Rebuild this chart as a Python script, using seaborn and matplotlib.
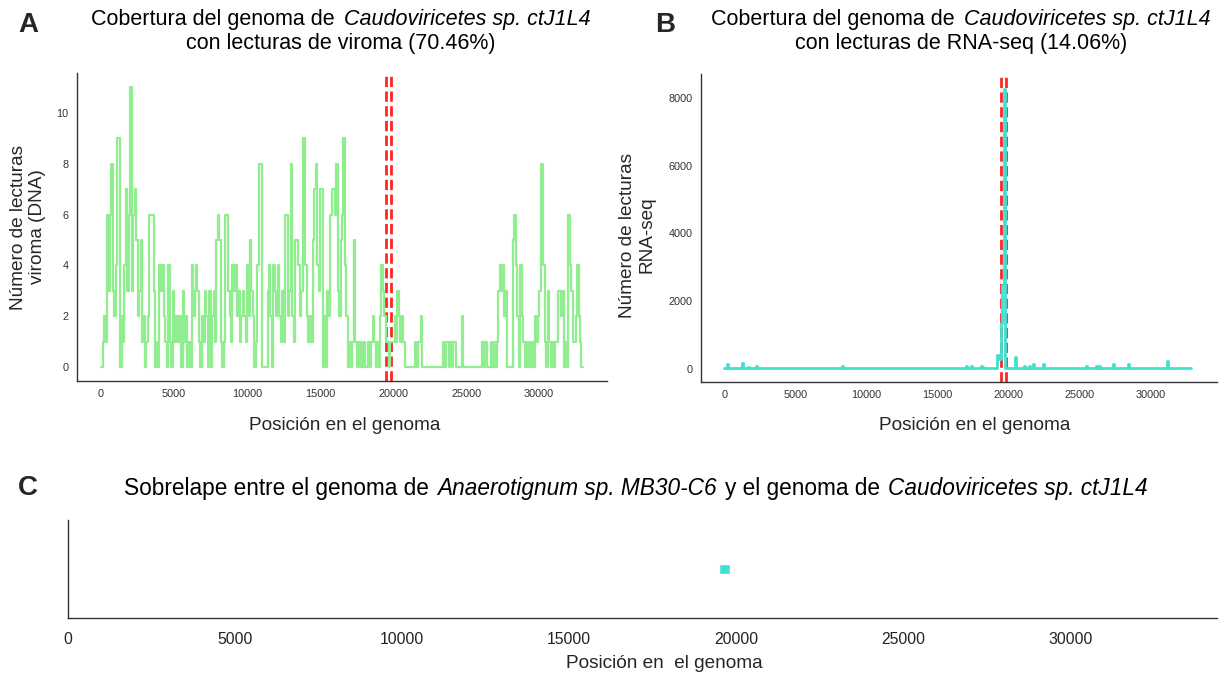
import numpy as np
import pandas as pd
import matplotlib
matplotlib.use("Agg")
import matplotlib.pyplot as plt
from matplotlib.transforms import IdentityTransform
import seaborn as sns

# ---------------- data ----------------
GENOME_LEN = 33000
BIN_SIZE = 100
# viroma (DNA) coverage, one value per 100-bp bin starting at position 0
viroma_cov = [
    0, 1, 2, 1, 6, 3, 6, 8, 3, 2,
    4, 9, 9, 0, 2, 1, 4, 7, 3, 6,
    11, 3, 6, 7, 5, 2, 3, 5, 1, 2,
    0, 1, 2, 6, 6, 6, 3, 0, 1, 0,
    4, 3, 4, 2, 1, 0, 4, 1, 0, 3,
    1, 2, 2, 1, 2, 0, 3, 1, 2, 0,
    1, 0, 4, 2, 3, 4, 3, 1, 0, 2,
    1, 3, 2, 0, 3, 0, 2, 3, 1, 5,
    6, 5, 1, 0, 1, 6, 6, 3, 2, 1,
    4, 3, 4, 2, 3, 1, 2, 3, 2, 1,
    4, 2, 5, 3, 2, 0, 1, 4, 8, 8,
    0, 0, 0, 0, 3, 4, 2, 0, 4, 3,
    2, 4, 2, 1, 3, 1, 6, 6, 2, 3,
    8, 2, 1, 5, 5, 4, 2, 3, 9, 9,
    4, 2, 1, 2, 1, 5, 7, 8, 4, 3,
    7, 7, 0, 2, 0, 3, 2, 6, 7, 7,
    6, 8, 3, 2, 5, 6, 9, 4, 2, 0,
    1, 0, 1, 5, 1, 0, 1, 0, 1, 0,
    1, 0, 0, 1, 0, 1, 2, 1, 0, 1,
    0, 2, 4, 3, 2, 1, 1, 0, 1, 1,
    1, 2, 1, 3, 2, 1, 2, 1, 0, 0,
    0, 0, 0, 0, 0, 1, 0, 1, 1, 2,
    0, 0, 0, 0, 0, 0, 0, 0, 0, 0,
    0, 0, 0, 0, 1, 0, 1, 1, 0, 1,
    0, 1, 1, 0, 0, 0, 0, 2, 0, 0,
    0, 0, 0, 0, 0, 0, 0, 0, 0, 0,
    0, 1, 0, 1, 0, 0, 0, 1, 0, 1,
    0, 1, 3, 4, 3, 4, 2, 3, 0, 0,
    0, 0, 5, 6, 4, 2, 0, 4, 2, 1,
    0, 1, 0, 1, 0, 1, 0, 2, 1, 2,
    3, 8, 8, 4, 1, 0, 3, 1, 0, 1,
    0, 1, 1, 3, 3, 2, 3, 0, 1, 0,
    6, 4, 3, 1, 1, 2, 4, 2, 1, 0,
]

# RNA-seq coverage as step breakpoints (position, value)
rna_pos = [0, 190, 260, 1260, 1330, 1650, 1720, 2210, 2280, 5000, 5060,
           8260, 8330, 12000, 12060, 17000, 17070, 17310, 17380, 18050, 18120,
           18200, 19200, 19300, 19450, 19560, 19640, 19740, 20450, 20520,
           21080, 21150, 21400, 21470, 21730, 21800, 22380, 22450, 24480,
           24540, 25440, 25500, 26150, 26220, 26380, 26450, 27330, 27400,
           28380, 28450, 31100, 31170, 32850]
rna_val = [20, 150, 20, 190, 20, 60, 20, 100, 20, 40, 20,
           100, 20, 40, 20, 100, 20, 100, 20, 100, 60,
           20, 420, 300, 1360, 2480, 8250, 20, 340, 20,
           100, 20, 100, 20, 150, 20, 150, 20, 40,
           20, 80, 20, 80, 20, 100, 20, 150, 20,
           150, 20, 250, 20, 20]

# overlap region (red dashed lines / panel C)
overlap_start = 19480
overlap_end = 19830

title_a = [("Cobertura del genoma de", "normal"), ("Caudoviricetes sp. ctJ1L4", "italic")]
title_a2 = [("con lecturas de viroma (70.46%)", "normal")]
title_b2 = [("con lecturas de RNA-seq (14.06%)", "normal")]
title_c = [("Sobrelape entre el genoma de", "normal"), ("Anaerotignum sp. MB30-C6", "italic"),
           ("y el genoma de", "normal"), ("Caudoviricetes sp. ctJ1L4", "italic")]

# ---------------- style ----------------
sns.set_style("white")
plt.rcParams["font.family"] = ["Liberation Sans", "DejaVu Sans"]
plt.rcParams["axes.edgecolor"] = "#333333"
plt.rcParams["axes.linewidth"] = 1.0

W, H = 1225, 674
fig = plt.figure(figsize=(W / 100, H / 100), dpi=100)


def ax_px(l, t, r, b):
    return fig.add_axes([l / W, 1 - b / H, (r - l) / W, (b - t) / H])


axA = ax_px(77, 73, 607, 381)
axB = ax_px(701, 74, 1217, 382)
axC = ax_px(68, 520, 1217, 618)

GREEN = "#90EE90"
TURQ = "#40E0D0"

# Panel A
pos_a = list(np.arange(len(viroma_cov)) * BIN_SIZE) + [GENOME_LEN]
cov_a = viroma_cov + [viroma_cov[-1]]
dfA = pd.DataFrame({"pos": pos_a, "cov": cov_a})
sns.lineplot(data=dfA, x="pos", y="cov", ax=axA, color=GREEN, linewidth=1.6,
             drawstyle="steps-post", estimator=None)
axA.set_xlim(-1650, 34650)
axA.set_ylim(-0.55, 11.57)
axA.set_yticks([0, 2, 4, 6, 8, 10])
axA.set_xticks([0, 5000, 10000, 15000, 20000, 25000, 30000])

# Panel B
dfB = pd.DataFrame({"pos": rna_pos, "cov": rna_val})
sns.lineplot(data=dfB, x="pos", y="cov", ax=axB, color=TURQ, linewidth=2.0,
             drawstyle="steps-post", estimator=None)
axB.set_xlim(-1650, 34650)
axB.set_ylim(-384, 8707)
axB.set_yticks([0, 2000, 4000, 6000, 8000])
axB.set_xticks([0, 5000, 10000, 15000, 20000, 25000, 30000])

for ax in (axA, axB):
    for xv in (overlap_start, overlap_end):
        ax.axvline(xv, color="red", linestyle="--", linewidth=2.0, alpha=0.85, zorder=1)
    sns.despine(ax=ax)
    ax.set_xlabel("")
    ax.set_ylabel("")
    ax.tick_params(axis="both", labelsize=7.8, colors="#333333", length=0, pad=6)

# Panel C
axC.barh([0], [overlap_end - overlap_start], left=[overlap_start], height=0.2, color=TURQ)
axC.set_xlim(0, 34400)
axC.set_ylim(-1, 1)
axC.set_yticks([])
axC.set_xticks([0, 5000, 10000, 15000, 20000, 25000, 30000])
sns.despine(ax=axC)
axC.tick_params(axis="x", labelsize=11.3, colors="#222222", length=0, pad=10)

# ---------------- texts ----------------
fig.canvas.draw()
renderer = fig.canvas.get_renderer()
IDT = IdentityTransform()


def measure(s, size, style):
    t = fig.text(0, 0, s, fontsize=size, fontstyle=style, transform=IDT)
    w = t.get_window_extent(renderer).width
    t.remove()
    return w


def mixed_line(cx, cy, pieces, size, extra=0.0):
    space = measure("a a", size, "normal") - measure("aa", size, "normal") + extra
    widths = [measure(s, size, st) for s, st in pieces]
    total = sum(widths) + space * (len(pieces) - 1)
    x = cx - total / 2
    for (s, st), w in zip(pieces, widths):
        fig.text(x, H - cy, s, fontsize=size, fontstyle=st, ha="left", va="center",
                 transform=IDT, color="black")
        x += w + space


TS = 15.5
mixed_line(341, 19, title_a, TS, extra=3)
mixed_line(341, 43, title_a2, TS)
mixed_line(961, 19, title_a, TS, extra=3)
mixed_line(961, 43, title_b2, TS)
mixed_line(636, 489, title_c, 16.3, extra=2)

for letter, x, y in (("A", 28, 25), ("B", 665, 25), ("C", 28, 488)):
    fig.text(x, H - y, letter, fontsize=20, fontweight="bold", ha="center", va="center",
             transform=IDT)

LS = 13.7
fig.text(28, H - 227, "Número de lecturas\nviroma (DNA)", fontsize=LS, rotation=90,
         ha="center", va="center", multialignment="center", transform=IDT)
fig.text(637, H - 235, "Número de lecturas\nRNA-seq", fontsize=LS, rotation=90,
         ha="center", va="center", multialignment="center", transform=IDT)
fig.text(345, H - 425, "Posición en el genoma", fontsize=LS, ha="center", va="center",
         transform=IDT)
fig.text(975, H - 425, "Posición en el genoma", fontsize=LS, ha="center", va="center",
         transform=IDT)
fig.text(664, H - 664, "Posición en  el genoma", fontsize=LS, ha="center", va="center",
         transform=IDT)

fig.savefig("out.png", dpi=100)
